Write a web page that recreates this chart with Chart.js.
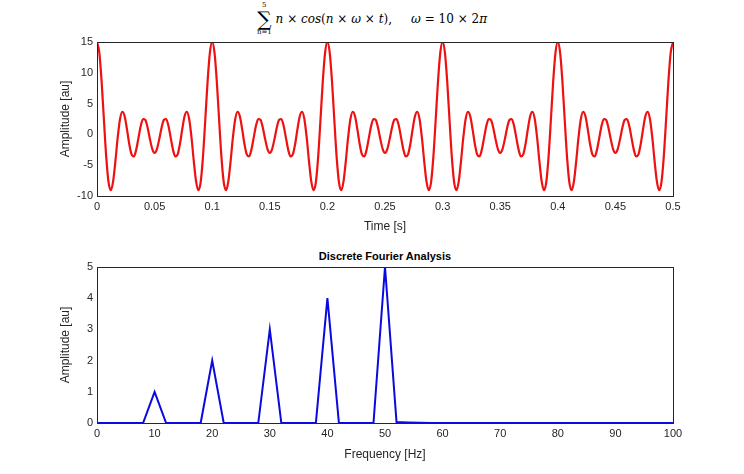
<!DOCTYPE html>
<html><head><meta charset="utf-8">
<script src="https://cdn.jsdelivr.net/npm/chart.js"></script>
<style>
body{margin:0;background:#fff;width:744px;height:474px;position:relative;overflow:hidden;font-family:"Liberation Sans",Arial,sans-serif}
canvas{position:absolute;left:0}
#t1{position:absolute;top:2px;left:0;width:744px;text-align:center;font-family:"DejaVu Serif",serif;font-size:12px;line-height:1}
#t1 .s{display:inline-block;vertical-align:middle;text-align:center;font-size:7px;line-height:1}
#t1 .s b{display:block;font-weight:normal;font-size:20px;line-height:20px}
#t2{position:absolute;top:250px;left:97px;width:576px;text-align:center;font-weight:bold;font-size:11px}
</style></head><body>
<div id="t1"><span class="s">5<b>&sum;</b>n=1</span> <i>n</i> &times; <i>cos</i>(<i>n</i> &times; <i>&omega;</i> &times; <i>t</i>), &nbsp;&nbsp;&nbsp; <i>&omega;</i> = 10 &times; 2<i>&pi;</i></div>
<div id="t2">Discrete Fourier Analysis</div>
<canvas id="c1" width="744" height="240" style="top:0"></canvas>
<canvas id="c2" width="744" height="234" style="top:240px"></canvas>
<script>
const halfPeriod=[15,13.27,8.60,2.37,-3.61,-7.74,-9.07,-7.63,-4.30,-0.46,2.5,3.68,2.94,0.85,-1.57,-3.26,-3.59,-2.51,-0.56,1.39,2.5,2.35,1.05,-0.81,-2.38,-3];
const timeStep=0.002, periods=5;
const freqs=[0,2,4,6,8,10,12,14,16,18,20,22,24,26,28,30,32,34,36,38,40,42,44,46,48,50,52,54,56,58,60,62,64,66,68,70,72,74,76,78,80,82,84,86,88,90,92,94,96,98,100];
const amps=[0,0,0,0,0,1,0,0,0,0,2,0,0,0,0,3,0,0,0,0,4,0,0,0,0,5,0.03,0.02,0.01,0,0,0,0,0,0,0,0,0,0,0,0,0,0,0,0,0,0,0,0,0,0];
const xTicks1=[0,0.05,0.1,0.15,0.2,0.25,0.3,0.35,0.4,0.45,0.5];

const period=halfPeriod.concat(halfPeriod.slice(1,-1).reverse());
const sig=[];
for(let p=0;p<periods;p++) period.forEach((v,i)=>sig.push({x:(p*period.length+i)*timeStep,y:v}));
sig.push({x:periods*period.length*timeStep,y:halfPeriod[0]});

const boxPlugin={id:'box',afterDraw(c){const a=c.chartArea,x=c.ctx;x.save();x.strokeStyle='#262626';x.lineWidth=1;x.strokeRect(a.left+0.5,a.top+0.5,a.right-a.left,a.bottom-a.top);x.restore();}};
const font={family:'"Liberation Sans",Arial',size:11};
function axes(xmin,xmax,xstep,ymin,ymax,ystep,xt,yt,xh,xtb,xfmt){
 return {
  x:{type:'linear',min:xmin,max:xmax,grid:{display:false,drawTicks:false},border:{color:'#262626'},
     afterBuildTicks(s){if(xfmt) s.ticks=xfmt.map(v=>({value:v}));},
     ticks:{stepSize:xstep,color:'#262626',font,padding:4,autoSkip:false,maxRotation:0,callback:v=>String(+v.toFixed(2))},
     title:{display:true,text:xt,color:'#262626',font:{family:font.family,size:12},padding:{top:2,bottom:xtb}},
     afterFit(s){s.height=xh;}},
  y:{min:ymin,max:ymax,grid:{display:false,drawTicks:false},border:{color:'#262626'},
     ticks:{stepSize:ystep,color:'#262626',font,padding:4},
     title:{display:true,text:yt,color:'#262626',font:{family:font.family,size:12},padding:{top:58,bottom:0}},
     afterFit(s){s.width=97;}}
 };
}
new Chart(document.getElementById('c1'),{type:'line',
 data:{datasets:[{data:sig,borderColor:'#ee1111',borderWidth:2.2,pointRadius:0,cubicInterpolationMode:'monotone'}]},
 options:{responsive:false,animation:false,layout:{padding:{top:42,right:71,left:0,bottom:0}},
  plugins:{legend:{display:false},tooltip:{enabled:false}},
  scales:axes(0,0.5,0.05,-10,15,5,'Time [s]','Amplitude [au]',44,6,xTicks1)},plugins:[boxPlugin]});
new Chart(document.getElementById('c2'),{type:'line',
 data:{datasets:[{data:freqs.map((f,i)=>({x:f,y:amps[i]})),borderColor:'#0a0ae0',borderWidth:2,pointRadius:0,tension:0}]},
 options:{responsive:false,animation:false,layout:{padding:{top:27,right:71,left:0,bottom:0}},
  plugins:{legend:{display:false},tooltip:{enabled:false}},
  scales:axes(0,100,10,0,5,1,'Frequency [Hz]','Amplitude [au]',51,12,null)},plugins:[boxPlugin]});
</script></body></html>
